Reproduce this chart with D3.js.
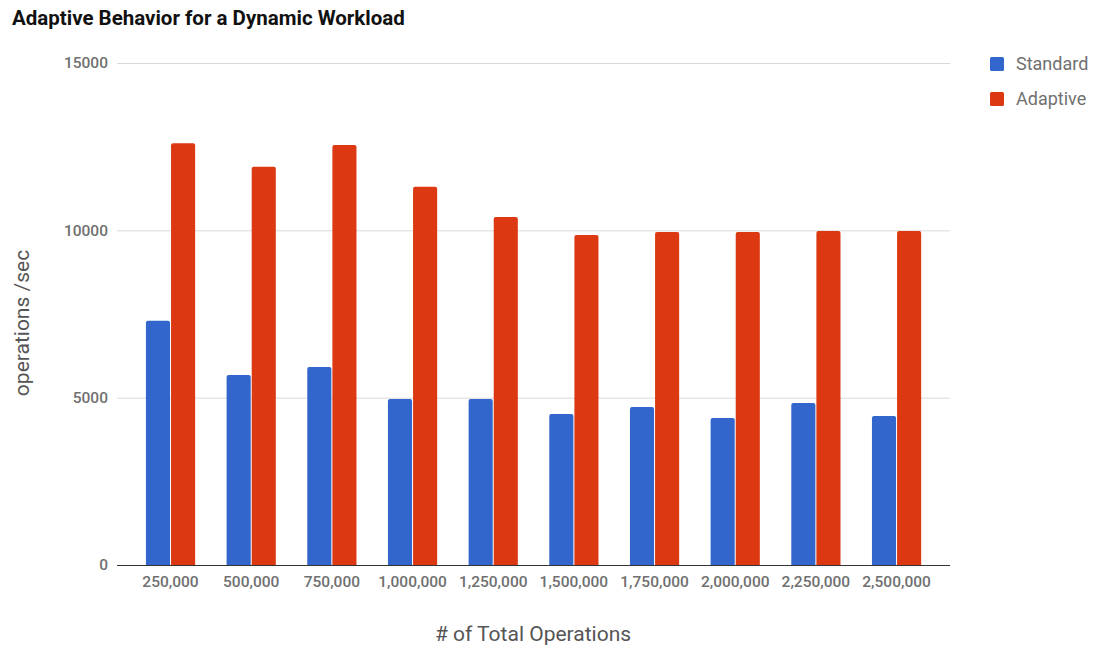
<!DOCTYPE html>
<html>
<head>
<meta charset="utf-8">
<script src="https://cdn.jsdelivr.net/npm/d3@7"></script>
<style>
  body { margin: 0; background: #fff; }
  text { font-family: Roboto, "Noto Sans", sans-serif; }
</style>
</head>
<body>
<svg class="main" width="1097" height="647"></svg>
<script>
  const categories = ["250,000", "500,000", "750,000", "1,000,000", "1,250,000",
    "1,500,000", "1,750,000", "2,000,000", "2,250,000", "2,500,000"];
  const seriesNames = ["Standard", "Adaptive"];
  const standard = [7300, 5680, 5920, 4960, 4960, 4510, 4720, 4390, 4840, 4450];
  const adaptive = [12600, 11900, 12550, 11300, 10400, 9860, 9950, 9950, 9980, 9980];
  const yTicks = [0, 5000, 10000, 15000];
  const colors = ["#3366cc", "#dc3912"];

  const svg = d3.select("svg.main");

  const x = d3.scaleBand().domain(categories).range([130.2, 936.9]).paddingInner(0.39).paddingOuter(0.195);
  const xs = d3.scaleBand().domain(seriesNames).range([0, x.bandwidth()]).paddingInner(0.04);
  const y = d3.scaleLinear().domain([0, 15000]).range([565, 63]);

  // gridlines
  svg.append("g").selectAll("line").data(yTicks.filter(d => d > 0)).join("line")
    .attr("x1", 117).attr("x2", 950)
    .attr("y1", d => y(d) + 0.5).attr("y2", d => y(d) + 0.5)
    .attr("stroke", "#d9d9d9").attr("stroke-width", 1);

  // y tick labels
  svg.append("g").selectAll("text").data(yTicks).join("text")
    .attr("x", 108).attr("y", d => y(d)).attr("dy", "0.35em")
    .attr("text-anchor", "end")
    .attr("fill", "#707070").attr("font-size", 15.5).attr("font-weight", 500)
    .text(d => d);

  // bars
  const data = categories.map((c, i) => ({ c, vals: [standard[i], adaptive[i]] }));
  const groups = svg.append("g").selectAll("g").data(data).join("g")
    .attr("transform", d => `translate(${x(d.c)},0)`);
  groups.selectAll("path").data(d => d.vals.map((v, j) => ({ v, j }))).join("path")
    .attr("fill", d => colors[d.j])
    .attr("d", d => {
      const x0 = xs(seriesNames[d.j]), w = xs.bandwidth();
      const y0 = y(d.v), y1 = y(0), r = 2;
      return `M${x0},${y1}V${y0 + r}Q${x0},${y0} ${x0 + r},${y0}H${x0 + w - r}Q${x0 + w},${y0} ${x0 + w},${y0 + r}V${y1}Z`;
    });

  // baseline
  svg.append("line").attr("x1", 117).attr("x2", 950)
    .attr("y1", y(0) + 0.5).attr("y2", y(0) + 0.5)
    .attr("stroke", "#333").attr("stroke-width", 1);

  // x tick labels
  svg.append("g").selectAll("text").data(categories).join("text")
    .attr("x", d => x(d) + x.bandwidth() / 2).attr("y", 587)
    .attr("text-anchor", "middle")
    .attr("fill", "#707070").attr("font-size", 15.5).attr("font-weight", 500)
    .text(d => d);

  // title
  svg.append("text").attr("x", 12).attr("y", 25)
    .attr("font-size", 20.5).attr("font-weight", 700).attr("fill", "#111")
    .text("Adaptive Behavior for a Dynamic Workload");

  // axis titles
  svg.append("text").attr("transform", "translate(29,323) rotate(-90)")
    .attr("text-anchor", "middle").attr("font-size", 21).attr("fill", "#555")
    .text("operations /sec");
  svg.append("text").attr("x", 533).attr("y", 641)
    .attr("text-anchor", "middle").attr("font-size", 21).attr("fill", "#555")
    .text("# of Total Operations");

  // legend
  const legend = svg.append("g").selectAll("g").data(seriesNames).join("g")
    .attr("transform", (d, i) => `translate(990,${57 + i * 35})`);
  legend.append("rect").attr("width", 14).attr("height", 14).attr("rx", 1.5)
    .attr("fill", (d, i) => colors[i]);
  legend.append("text").attr("x", 26).attr("y", 7).attr("dy", "0.35em")
    .attr("font-size", 18).attr("fill", "#707070").text(d => d);
</script>
</body>
</html>
